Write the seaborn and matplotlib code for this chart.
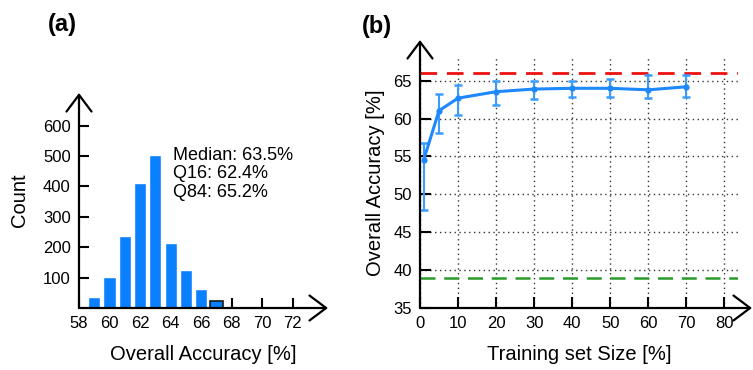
import numpy as np
import pandas as pd
import matplotlib
matplotlib.use("Agg")
import matplotlib.pyplot as plt
import seaborn as sns

# histogram of overall accuracy (a)
acc_bins = [59, 60, 61, 62, 63, 64, 65, 66, 67]
acc_counts = [37, 101, 237, 410, 502, 214, 124, 61, 22]
stats_text = "Median: 63.5%\nQ16: 62.4%\nQ84: 65.2%"

# learning curve (b)
train_size = [1, 5, 10, 20, 30, 40, 50, 60, 70]
acc_mean = [54.6, 61.05, 62.7, 63.55, 63.9, 64.0, 64.0, 63.8, 64.2]
acc_low = [47.9, 58.1, 60.5, 61.8, 62.6, 62.8, 62.8, 62.7, 62.8]
acc_high = [56.8, 63.3, 64.4, 64.9, 64.9, 64.9, 65.2, 65.7, 65.7]
upper_ref = 66
lower_ref = 39

sns.set_style("white")
plt.rcParams["font.family"] = ["Liberation Sans", "DejaVu Sans"]
plt.rcParams.update({"text.color": "black", "axes.labelcolor": "black",
                     "xtick.color": "black", "ytick.color": "black"})

fig = plt.figure(figsize=(7.53, 3.70), dpi=100)
W, H = 753, 370


def px_axes(l, t, r, b):
    return fig.add_axes([l / W, 1 - b / H, (r - l) / W, (b - t) / H])


def arrow_axes(ax, xt, yt):
    kw = dict(arrowstyle="->,head_length=0.6,head_width=0.45", lw=1.6, color="black",
              mutation_scale=20, shrinkA=0, shrinkB=0)
    ax.annotate("", xy=(xt, 0), xytext=(0, 0), xycoords="axes fraction",
                arrowprops=kw, annotation_clip=False)
    ax.annotate("", xy=(0, yt), xytext=(0, 0), xycoords="axes fraction",
                arrowprops=kw, annotation_clip=False)


blue = "#0a80ff"

# (a) histogram
ax1 = px_axes(79, 93, 328, 308)
hist_df = pd.DataFrame({"acc": acc_bins, "count": acc_counts})
sns.barplot(data=hist_df, x="acc", y="count", native_scale=True, width=0.8,
            color=blue, saturation=1, ax=ax1, zorder=2)
ax1.patches[-1].set_edgecolor("#1a1a1a")
ax1.patches[-1].set_linewidth(1.2)
ax1.set_xlim(58, 74.3)
ax1.set_ylim(0, 707)
ax1.set_xticks(range(58, 73, 2))
ax1.set_yticks(range(100, 601, 100))
for s in ax1.spines.values():
    s.set_visible(False)
arrow_axes(ax1, 1.0, 1.0)
ax1.tick_params(direction="in", length=7, width=1.5, labelsize=12, pad=6,
                bottom=True, left=True)
ax1.set_xlabel("Overall Accuracy [%]", fontsize=14.5, labelpad=10)
ax1.set_ylabel("Count", fontsize=14.5, labelpad=10)
ax1.text(64.15, 530, stats_text, fontsize=13, va="top", ha="left", linespacing=1.12)
fig.text(62 / W, 1 - 25 / H, "(a)", fontsize=17, fontweight="bold", ha="center", va="center")

# (b) learning curve
ax2 = px_axes(420, 58, 738, 308)
curve_df = pd.DataFrame({"size": train_size, "acc": acc_mean})
err = np.array([np.array(acc_mean) - np.array(acc_low), np.array(acc_high) - np.array(acc_mean)])
ax2.errorbar(train_size, acc_mean, yerr=err, fmt="none", ecolor="#3a9cff",
             elinewidth=1.5, capsize=3, capthick=1.8, zorder=3)
sns.lineplot(data=curve_df, x="size", y="acc", color="#1e88ff", lw=2.2, marker="o",
             markersize=4.5, markeredgewidth=0, ax=ax2, zorder=4)
ax2.axhline(upper_ref, color="#ee1111", lw=2, dashes=(6, 3.5), zorder=2)
ax2.axhline(lower_ref, color="#2a9a2a", lw=1.8, dashes=(6, 3.5), zorder=2)
ax2.set_xlim(0, 83.6)
ax2.set_ylim(35, 68)
ax2.set_xticks(range(0, 81, 10))
ax2.set_yticks(range(35, 66, 5))
ax2.grid(True, color="#333333", lw=1, ls=(0, (1, 2.5)), zorder=1)
for s in ax2.spines.values():
    s.set_visible(False)
arrow_axes(ax2, 1.044, 1.072)
ax2.tick_params(direction="in", length=8, width=1.5, labelsize=12, pad=6,
                bottom=True, left=True)
ax2.set_xlabel("Training set Size [%]", fontsize=14.5, labelpad=10)
ax2.set_ylabel("Overall Accuracy [%]", fontsize=14.5, labelpad=6)
fig.text(377 / W, 1 - 26 / H, "(b)", fontsize=17, fontweight="bold", ha="center", va="center")

fig.savefig("out.png", dpi=100)
